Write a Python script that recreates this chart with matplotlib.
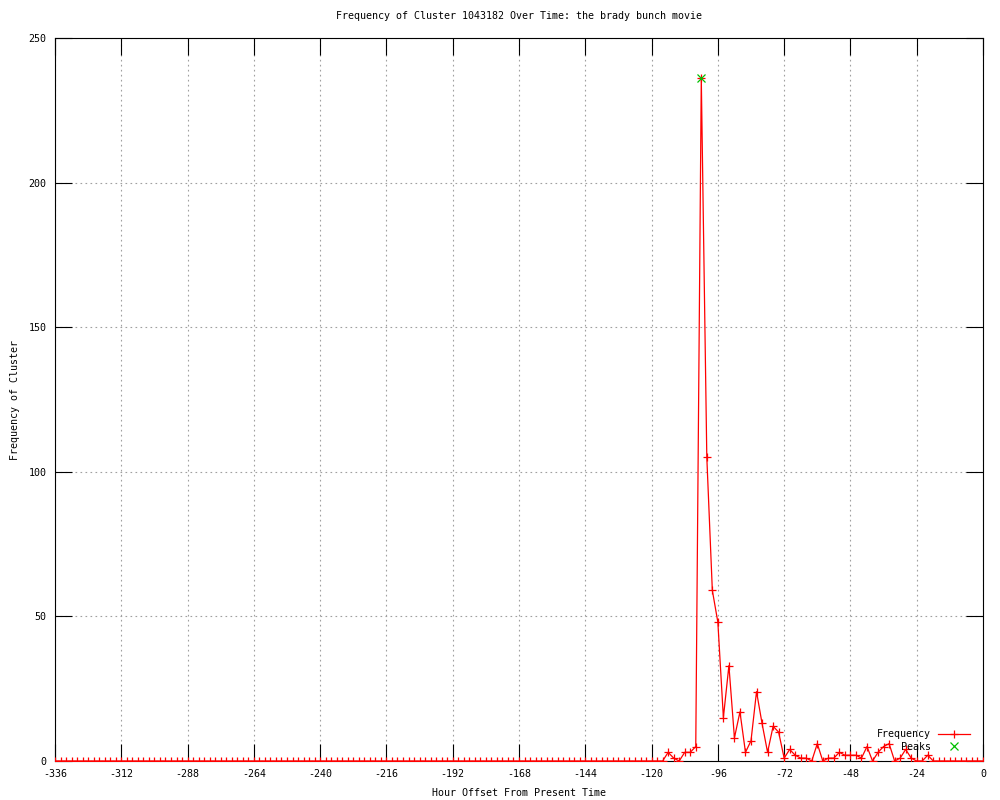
import numpy as np
import matplotlib
matplotlib.use("Agg")
import matplotlib.pyplot as plt

# Data: one count every 2 hours from -336 to 0
hours = np.arange(-336, 1, 2)
frequency = [
    0, 0, 0, 0, 0, 0, 0, 0, 0, 0, 0, 0,        # -336 .. -314
    0, 0, 0, 0, 0, 0, 0, 0, 0, 0, 0, 0,        # -312 .. -290
    0, 0, 0, 0, 0, 0, 0, 0, 0, 0, 0, 0,        # -288 .. -266
    0, 0, 0, 0, 0, 0, 0, 0, 0, 0, 0, 0,        # -264 .. -242
    0, 0, 0, 0, 0, 0, 0, 0, 0, 0, 0, 0,        # -240 .. -218
    0, 0, 0, 0, 0, 0, 0, 0, 0, 0, 0, 0,        # -216 .. -194
    0, 0, 0, 0, 0, 0, 0, 0, 0, 0, 0, 0,        # -192 .. -170
    0, 0, 0, 0, 0, 0, 0, 0, 0, 0, 0, 0,        # -168 .. -146
    0, 0, 0, 0, 0, 0, 0, 0, 0, 0, 0, 0,        # -144 .. -122
    0, 0, 0, 3, 1, 0, 3, 3, 5, 236, 105, 59,   # -120 .. -98
    48, 15, 33, 8, 17, 3, 7, 24, 13, 3, 12, 10,  # -96 .. -74
    1, 4, 2, 1, 1, 0, 6, 0, 1, 1, 3, 2,        # -72 .. -50
    2, 2, 1, 5, 0, 3, 5, 6, 0, 1, 4, 1,        # -48 .. -26
    0, 0, 2, 0, 0, 0, 0, 0, 0, 0, 0, 0,        # -24 .. -2
    0,                                         # 0
]
peak_hours = [-102]
peak_values = [236]

x_ticks = list(range(-336, 1, 24))
y_ticks = [0, 50, 100, 150, 200, 250]

plt.rcParams['font.family'] = ['DejaVu Sans Mono']
plt.rcParams['font.size'] = 7.2
plt.rcParams['axes.unicode_minus'] = False

fig = plt.figure(figsize=(10, 8), dpi=100)
ax = fig.add_axes([0.055, 0.04875, 0.928, 0.90375])

ax.plot(hours, frequency, color="#ff0000", lw=0.9, marker="+", ms=6,
        mew=0.9, label="Frequency", zorder=3)
ax.plot(peak_hours, peak_values, linestyle="none", color="#00c000",
        marker="x", ms=5.5, mew=0.9, label="Peaks", zorder=4)

ax.set_xlim(-336, 0)
ax.set_ylim(0, 250)
ax.set_xticks(x_ticks)
ax.set_yticks(y_ticks)
ax.grid(True, color="#a0a0a0", linestyle=(0, (1.5, 3)), lw=0.8)
ax.set_axisbelow(True)

ax.tick_params(direction="in", top=True, right=True, length=12, width=0.8,
               color="black", labelsize=7.2)
ax.tick_params(axis="x", pad=6)
ax.tick_params(axis="y", pad=6)
for s in ax.spines.values():
    s.set_linewidth(0.8)
    s.set_color("black")

ax.set_title("Frequency of Cluster 1043182 Over Time: the brady bunch movie",
             fontsize=7.2, pad=14)
ax.set_xlabel("Hour Offset From Present Time", labelpad=6)
ax.set_ylabel("Frequency of Cluster", labelpad=6)

ax.legend(loc="lower right", bbox_to_anchor=(0.986, 0.0125), frameon=False,
          markerfirst=False, borderpad=0, borderaxespad=0, labelspacing=0.25,
          handlelength=3.2, handletextpad=0.7, fontsize=7.2)

fig.savefig("out.png", dpi=100)
